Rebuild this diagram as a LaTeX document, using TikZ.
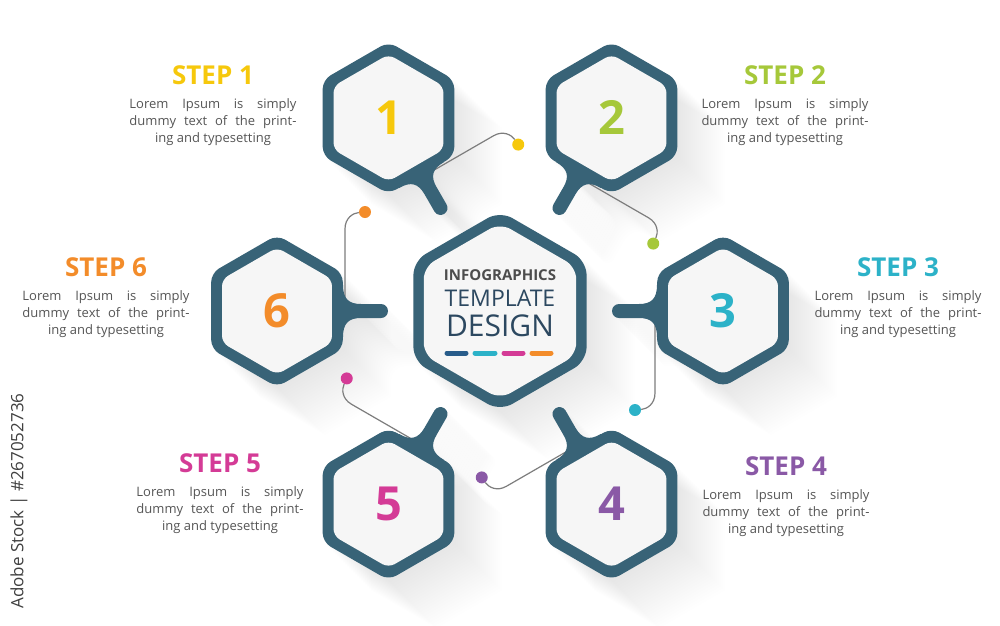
\documentclass[tikz,border=0pt]{standalone}
\usepackage{fontspec}
\setmainfont{Open Sans}
\usetikzlibrary{positioning}
\definecolor{hexborder}{RGB}{56,99,119}
\definecolor{hexfill}{RGB}{246,246,246}
\definecolor{linkgray}{RGB}{125,125,125}
\definecolor{textgray}{RGB}{85,85,85}
\definecolor{titlegray}{RGB}{77,77,77}
\definecolor{titleblue}{RGB}{44,72,96}
\definecolor{stepyellow}{RGB}{246,200,12}
\definecolor{steplime}{RGB}{166,200,58}
\definecolor{stepteal}{RGB}{44,178,200}
\definecolor{steppurple}{RGB}{138,89,166}
\definecolor{stepmagenta}{RGB}{212,59,150}
\definecolor{steporange}{RGB}{243,140,42}
\definecolor{bardarkblue}{RGB}{40,92,138}
\newcommand{\hexoutline}[1]{(30:#1) -- (90:#1) -- (150:#1) -- (210:#1) -- (270:#1) -- (330:#1) -- cycle}
\newcommand{\hexstem}{(-58,26) -- (-66,26) .. controls (-66,12) and (-72,7) .. (-84,7) -- (-104,7) arc[start angle=90, end angle=270, radius=7] -- (-84,-7) .. controls (-72,-7) and (-66,-12) .. (-66,-26) -- (-58,-26) -- cycle}
\newcommand{\steplines}[3]{\makebox[167pt][s]{#1}\\\makebox[167pt][s]{#2}\\#3}
\tikzset{
    steptitle/.style={font=\fontsize{26}{30}\selectfont\bfseries, inner sep=0pt, anchor=base},
    stepbody/.style={font=\fontsize{13}{17}\selectfont, text=textgray, align=center, inner sep=0pt},
    number/.style={font=\fontsize{47}{50}\selectfont\bfseries, inner sep=0pt},
    dot/.style={circle, inner sep=0pt, minimum size=12pt},
    link/.style={linkgray, line width=1.2pt},
    bar/.style={line width=5pt, line cap=round},
    shade/.style={black, fill opacity=0.005},
}

\begin{document}
\begin{tikzpicture}[x=1pt, y=1pt]

\fill[white] (-500,-314) rectangle (500,311);
\useasboundingbox (-500,-314) rectangle (500,311);

% long shadows
\foreach \d in {2,4,...,48}{
    \fill[shade, shift={(\d,-\d)}] \hexoutline{100};
    \foreach \a in {0,60,...,300}{
        \begin{scope}[shift={(\d,-\d)}, shift={(\a:223)}, rotate=\a]
            \fill[shade] \hexoutline{76} \hexstem;
        \end{scope}
    }
}

% centre hexagon
\fill[hexborder, rounded corners=14pt] \hexoutline{100};
\fill[hexfill, rounded corners=12pt] \hexoutline{88};
\node[font=\fontsize{15}{17}\selectfont\bfseries, text=titlegray, inner sep=0pt] (infotitle) at (0,36) {INFOGRAPHICS};
\node[font=\fontsize{23}{25}\selectfont, text=titleblue, inner sep=0pt] (templatetitle) at (0,13) {TEMPLATE};
\node[font=\fontsize{30}{32}\selectfont, text=titleblue, inner sep=0pt] (designtitle) at (0,-15) {DESIGN};
\draw[bar, bardarkblue] (-53,-42) -- (-34,-42);
\draw[bar, stepteal] (-25,-42) -- (-5,-42);
\draw[bar, stepmagenta] (4,-42) -- (23,-42);
\draw[bar, steporange] (32,-42) -- (51,-42);

% step hexagons
\foreach \a/\n/\c in {0/3/stepteal, 60/2/steplime, 120/1/stepyellow, 180/6/steporange, 240/5/stepmagenta, 300/4/steppurple}{
    \begin{scope}[shift={(\a:223)}, rotate=\a]
        \node[dot, fill=\c] (dot\n) at (-88,-99) {};
        \coordinate (stem\n) at (-68,-12);
        \draw[link] (stem\n) -- (-68,-82) .. controls (-68,-93) and (-76,-98) .. (dot\n);
        \fill[hexborder, rounded corners=9pt] \hexoutline{76};
        \fill[hexborder] \hexstem;
        \fill[hexfill, rounded corners=7pt] \hexoutline{63.5};
        \node[number, text=\c] (hex\n) at (0,0) {\n};
    \end{scope}
}

% step texts
\node[steptitle, text=stepyellow] (title1) at (-287,227) {STEP 1};
\node[stepbody, below=14pt of title1.base] (body1) {\steplines{Lorem Ipsum is simply}{dummy text of the print-}{ing and typesetting}};
\node[steptitle, text=steplime] (title2) at (285,227) {STEP 2};
\node[stepbody, below=14pt of title2.base] (body2) {\steplines{Lorem Ipsum is simply}{dummy text of the print-}{ing and typesetting}};
\node[steptitle, text=stepteal] (title3) at (398,35) {STEP 3};
\node[stepbody, below=14pt of title3.base] (body3) {\steplines{Lorem Ipsum is simply}{dummy text of the print-}{ing and typesetting}};
\node[steptitle, text=steppurple] (title4) at (286,-164) {STEP 4};
\node[stepbody, below=14pt of title4.base] (body4) {\steplines{Lorem Ipsum is simply}{dummy text of the print-}{ing and typesetting}};
\node[steptitle, text=stepmagenta] (title5) at (-280,-161) {STEP 5};
\node[stepbody, below=14pt of title5.base] (body5) {\steplines{Lorem Ipsum is simply}{dummy text of the print-}{ing and typesetting}};
\node[steptitle, text=steporange] (title6) at (-394,35) {STEP 6};
\node[stepbody, below=14pt of title6.base] (body6) {\steplines{Lorem Ipsum is simply}{dummy text of the print-}{ing and typesetting}};

\node[rotate=90, text=black!75, font=\fontsize{17}{19}\selectfont, inner sep=0pt] (stockmark) at (-481,-190) {Adobe Stock | \#267052736};

\end{tikzpicture}
\end{document}
